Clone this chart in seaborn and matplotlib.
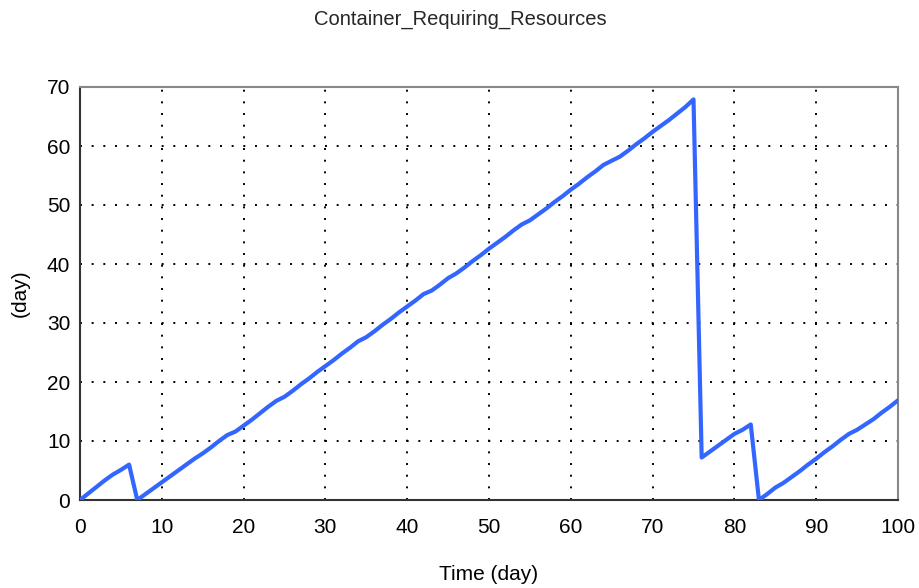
import matplotlib
matplotlib.use("Agg")
import matplotlib.pyplot as plt
import seaborn as sns
import pandas as pd
from matplotlib.ticker import MultipleLocator

# Data (daily samples)
time_day = list(range(0, 101))
resources = [
    0.0, 1.1, 2.2, 3.3, 4.3, 5.1, 6.0, 0.0, 1.0, 2.0,
    3.0, 4.0, 5.0, 6.0, 7.0, 7.9, 8.9, 10.0, 11.0, 11.6,
    12.6, 13.6, 14.7, 15.8, 16.8, 17.5, 18.5, 19.6, 20.6, 21.7,
    22.7, 23.7, 24.8, 25.8, 26.9, 27.6, 28.6, 29.7, 30.7, 31.8,
    32.8, 33.8, 34.9, 35.5, 36.5, 37.6, 38.4, 39.4, 40.5, 41.5,
    42.6, 43.6, 44.6, 45.7, 46.7, 47.4, 48.4, 49.4, 50.5, 51.5,
    52.6, 53.6, 54.7, 55.7, 56.8, 57.5, 58.2, 59.2, 60.3, 61.3,
    62.4, 63.4, 64.4, 65.5, 66.6, 67.9, 7.2, 8.2, 9.2, 10.2,
    11.2, 11.9, 12.8, 0.0, 1.0, 2.1, 2.9, 3.9, 4.9, 6.0,
    7.0, 8.1, 9.1, 10.2, 11.2, 11.9, 12.8, 13.7, 14.8, 15.8,
    16.9,
]
x_ticks = [0, 10, 20, 30, 40, 50, 60, 70, 80, 90, 100]
y_ticks = [0, 10, 20, 30, 40, 50, 60, 70]

df = pd.DataFrame({"Time": time_day, "Value": resources})

sns.set_theme(style="white")
plt.rcParams["font.family"] = ["Liberation Sans", "DejaVu Sans"]

fig = plt.figure(figsize=(9.2, 5.88), dpi=100)
ax = fig.add_axes([80 / 920, 1 - 500 / 588, 818 / 920, 413 / 588])

sns.lineplot(data=df, x="Time", y="Value", ax=ax, color="#3366FF",
             linewidth=3.0, zorder=3)

ax.set_xlim(0, 100)
ax.set_ylim(0, 70)
ax.set_xticks(x_ticks)
ax.set_yticks(y_ticks)
ax.xaxis.set_minor_locator(MultipleLocator(5))
ax.yaxis.set_minor_locator(MultipleLocator(5))
ax.tick_params(axis="both", which="both", direction="inout", colors="#333333",
               labelcolor="black", labelsize=15, width=1)
ax.tick_params(axis="both", which="major", length=8)
ax.tick_params(axis="both", which="minor", length=8)
ax.tick_params(axis="x", pad=9)
ax.tick_params(axis="y", pad=3)

ax.grid(True, which="major", color="black", linestyle=(0, (1, 5)), linewidth=1.4)

for side in ["left", "bottom"]:
    ax.spines[side].set_color("#333333")
    ax.spines[side].set_linewidth(1.5)
for side in ["top", "right"]:
    ax.spines[side].set_visible(True)
    ax.spines[side].set_color("#888888")
    ax.spines[side].set_linewidth(1.5)

ax.set_xlabel("Time (day)", fontsize=15, labelpad=20, color="black")
ax.set_ylabel("(day)", fontsize=15, labelpad=12, color="black")
fig.suptitle("Container_Requiring_Resources", fontsize=14.5, x=0.5, y=1 - 19 / 588,
             va="center")

fig.savefig("out.png", dpi=100)
